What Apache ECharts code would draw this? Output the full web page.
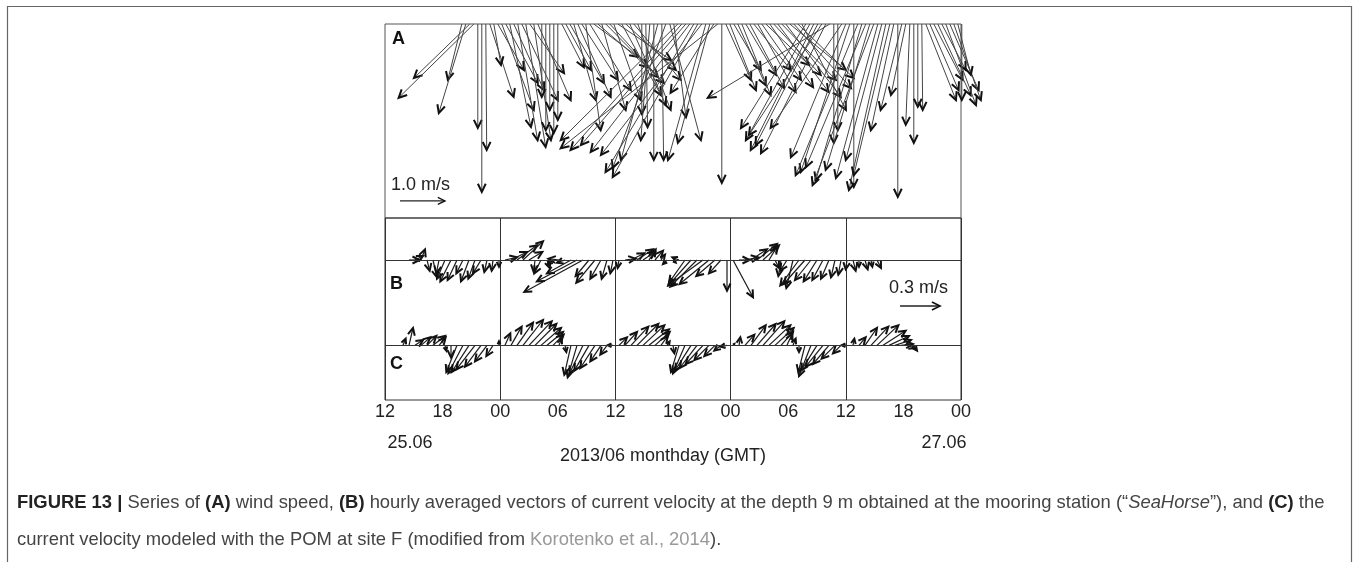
<!DOCTYPE html>
<html>
<head>
<meta charset="utf-8">
<script src="https://cdn.jsdelivr.net/npm/echarts@6/dist/echarts.min.js"></script>
<style>
  html, body { margin: 0; padding: 0; background: #fff; }
  #chart { width: 1360px; height: 562px; }
</style>
</head>
<body>
<div id="chart"></div>
<script>
// time axis: hours since 12:00 25.06 (GMT), 60 h shown
var hourLabels = ['12', '18', '00', '06', '12', '18', '00', '06', '12', '18', '00'];
var dateLabels = ['25.06', '27.06'];

// (A) wind, every 25 min from 20:00 25.06, m/s
var windStart = 8, windStep = 5 / 12;
var windU = [
  -0.31, -0.60, -1.24, -1.67,
  0, 0, 0.02,
  0.53, 0.16, 0.58, 0.71, 0.71, 0.47, 0.67, 0.44, 0.80, 0.44, 0.76, 0.38, 0.73,
  0, 0, 0, 0, 0,
  0.49, 0.56, 0.76, 0.49, 0.73, 0.80, 0.33, 0.91, 0.98, 1.11, 0.53, 1.16, 1.20, 0.60, 1.18, 0.87, 1.11, 0.80, 1.04, 0.73,
  0, 0.04, -0.20, 0, -0.82, 0.04, -1.18,
  0.69, 0.27, -2.60, -2.47, -2.33, -2.20, -1.96, -1.89, -2.24, -0.84, -0.71, -0.96, -3.49, 0,
  0.56, 0.58, 0.60, 0.62, 0.64, 0.67, 0.76, 0.82, 0.84, 0.87, 0.96, 0.96, 1.04, 1.13, 1.20, 1.22, 1.24, 1.27, 1.24,
  0.98, -1.44, -1.42, -1.40, -1.38, -1.62, -1.44, -2.71,
  0, 0, -1.58, -1.22, -1.09, 0, -1.38, -1.02,
  -1.33, -0.98, -1.36, -0.93, -0.80, -0.82, -0.80, -0.51,
  0, -0.47, -0.33, -0.09, 0, 0, 0.02,
  0.67, 0.64, 0.64, 0.73, 0.53, 0.67, 0.64, 0.60, 0.29, 0
];
var windV = [
  -1.24, -1.98, -1.20, -1.64,
  -2.31, -3.73, -2.80,
  -1.62, -0.91, -1.02, -1.91, -1.31, -2.29, -1.47, -2.58, -1.69, -2.73, -1.09, -2.58, -1.69,
  -1.62, -2.36, -1.91, -2.42, -2.13,
  -0.96, -1.02, -1.31, -1.69, -1.62, -1.24, -2.36, -1.47, -0.73, -0.96, -1.91, -1.18, -1.31, -1.69, -0.80, -1.58, -1.02, -1.80, -1.24, -1.91,
  -2.00, -2.29, -2.58, -3.02, -3.02, -3.02, -3.20,
  -2.58, -2.07, -2.58, -2.80, -2.69, -2.84, -3.29, -3.40, -2.91, -3.02, -2.64, -1.53, -2.76, -3.53,
  -1.24, -1.47, -1.02, -1.36, -1.58, -1.13, -1.42, -1.02, -1.51, -1.24, -0.91, -1.40, -1.13, -1.51, -1.24, -1.62, -1.02, -1.42, -1.20,
  -1.91, -2.31, -2.58, -2.80, -2.69, -2.47, -2.87, -1.64,
  -2.64, -2.36, -2.31, -2.96, -3.29, -3.62, -3.36, -3.47,
  -3.18, -3.24, -3.58, -3.42, -3.02, -3.69, -3.36, -2.36,
  -3.84, -1.91, -1.58, -2.24, -2.64, -1.84, -1.91,
  -1.69, -1.47, -1.24, -1.58, -1.02, -1.80, -1.47, -1.69, -1.13, -1.69
];

// (B) measured current at 9 m, from 14:30 25.06, m/s
var curBStart = 2.5, curBStep = 0.625;
var curBU = [
  0.08, 0.06, 0.03, 0.02, 0.03, -0.02, -0.06, -0.08, -0.07, -0.05,
  -0.06, -0.05, -0.06, -0.02, -0.01, 0, 0.09, 0.12, 0.15, 0.15,
  0.10, -0.01, -0.05, 0.02, -0.04, -0.08, -0.06, -0.18, -0.30, -0.44,
  -0.10, -0.14, -0.08, -0.04, -0.02, -0.01, 0.08, 0.10, 0.12, 0.09,
  0.05, 0.06, 0.03, -0.03, 0.02, -0.05, -0.12, -0.17, -0.20, -0.26,
  -0.22, -0.14, -0.09, 0, 0.15, 0.08, 0.10, 0.12, 0.15, 0.12,
  0.06, 0.03, -0.02, -0.05, -0.05, -0.14, -0.16, -0.12, -0.10, -0.08,
  -0.06, -0.03, -0.02, -0.01, 0.02, 0, 0.02, 0.01, 0.03
];
var curBV = [
  0, 0.03, 0.08, -0.08, -0.13, -0.10, -0.14, -0.16, -0.15, -0.10,
  -0.16, -0.14, -0.10, -0.09, -0.08, -0.05, 0.02, 0.06, 0.11, 0.14,
  0.06, -0.09, -0.10, -0.06, -0.03, 0.01, -0.02, -0.10, -0.16, -0.24,
  -0.12, -0.17, -0.14, -0.14, -0.10, -0.06, 0.01, 0.05, 0.08, 0.06,
  0.08, 0.07, 0.04, -0.03, -0.02, 0.02, -0.17, -0.19, -0.20, -0.19,
  -0.18, -0.12, -0.10, -0.23, -0.28, 0, 0.02, 0.08, 0.12, 0.11,
  0.10, -0.06, -0.12, -0.08, -0.21, -0.19, -0.18, -0.15, -0.16, -0.15,
  -0.14, -0.13, -0.11, -0.07, -0.08, -0.05, -0.07, -0.05, -0.06
];

// (C) POM current at site F, from 13:52 25.06, m/s
var curCStart = 1.875, curCStep = 0.625;
var curCU = [
  0.02, 0.03, 0.06, 0.07, 0.07, 0.09, 0.05, 0.01, 0, -0.08,
  -0.11, -0.13, -0.14, -0.12, -0.09, -0.05, 0, 0.04, 0.08, 0.12,
  0.15, 0.17, 0.16, 0.15, 0.12, 0.08, 0.02, 0.01, -0.05, -0.07,
  -0.10, -0.11, -0.11, -0.08, -0.05, -0.04, 0.06, 0.09, 0.13, 0.16,
  0.16, 0.15, 0.11, 0.05, 0.02, 0.01, -0.06, -0.09, -0.12, -0.13,
  -0.13, -0.11, -0.08, -0.05, -0.05, 0.01, 0.01, 0.07, 0.11, 0.14,
  0.16, 0.16, 0.14, 0.09, 0.04, 0.02, 0, -0.05, -0.09, -0.12,
  -0.13, -0.12, -0.10, -0.06, -0.04, 0.01, 0.05, 0.09, 0.13, 0.16,
  0.17, 0.15, 0.12, 0.09, 0.06, 0.03
];
var curCV = [
  0.05, 0.13, 0.04, 0.06, 0.07, 0.07, 0.06, -0.04, -0.09, -0.20,
  -0.21, -0.20, -0.18, -0.16, -0.12, -0.08, 0.03, 0.09, 0.14, 0.17,
  0.19, 0.18, 0.16, 0.13, 0.10, 0.08, 0.05, -0.05, -0.22, -0.24,
  -0.21, -0.19, -0.17, -0.12, -0.07, 0, 0.06, 0.10, 0.14, 0.16,
  0.15, 0.12, 0.10, 0.07, 0.03, -0.06, -0.20, -0.21, -0.19, -0.17,
  -0.14, -0.11, -0.08, -0.04, -0.01, 0.01, 0.06, 0.08, 0.15, 0.16,
  0.18, 0.15, 0.13, 0.10, 0.09, 0.05, -0.05, -0.20, -0.23, -0.19,
  -0.16, -0.14, -0.10, -0.06, 0, 0.05, 0.06, 0.13, 0.14, 0.15,
  0.11, 0.07, 0.04, 0.01, -0.02, -0.04
];

// baselines of the B and C sticks (m/s, in the lower panel)
var baseB = 0, baseC = -0.64;
// scale arrows: [time, u, v, base]
var keyA = [[1.5625, 1.0, 0, -3.93]];
var keyB = [[53.65, 0.3, 0, -0.345]];

function sticks(start, step, u, v, base) {
  var out = [];
  for (var i = 0; i < Math.min(u.length, v.length); i++) {
    out.push([start + i * step, u[i], v[i], base]);
  }
  return out;
}

function arrowRenderer(headLen, shaftColor, shaftWidth, headWidth) {
  return function (params, api) {
    var t = api.value(0), u = api.value(1), v = api.value(2), b = api.value(3);
    var o = api.coord([t, b]);
    var k = api.size([0, 1])[1]; // px per m/s
    var tip = [o[0] + u * k, o[1] - v * k];
    var dx = tip[0] - o[0], dy = tip[1] - o[1];
    var len = Math.sqrt(dx * dx + dy * dy);
    var children = [{
      type: 'line',
      shape: { x1: o[0], y1: o[1], x2: tip[0], y2: tip[1] },
      style: { stroke: shaftColor, lineWidth: shaftWidth }
    }];
    if (len > 1.5) {
      var ang = Math.atan2(dy, dx);
      var L = Math.min(headLen, len * 0.8);
      var a1 = ang + Math.PI - 0.45, a2 = ang + Math.PI + 0.45;
      children.push({
        type: 'polyline',
        shape: { points: [
          [tip[0] + L * Math.cos(a1), tip[1] + L * Math.sin(a1)],
          tip,
          [tip[0] + L * Math.cos(a2), tip[1] + L * Math.sin(a2)]
        ] },
        style: { stroke: '#111', lineWidth: headWidth, fill: null }
      });
    }
    return { type: 'group', children: children };
  };
}

var font = "'Liberation Sans', Arial, sans-serif";
var lineStyleBase = { type: 'solid', color: '#333', width: 1 };
var capSize = 18.4;

var chart = echarts.init(document.getElementById('chart'));
var option = {
  animation: false,
  grid: [
    { left: 385, top: 24, width: 576, height: 194, show: true, borderColor: '#555', borderWidth: 1 },
    { left: 385, top: 218, width: 576, height: 182, show: true, borderColor: '#333', borderWidth: 1 }
  ],
  xAxis: [
    { gridIndex: 0, type: 'value', min: 0, max: 60, show: false },
    {
      gridIndex: 1, type: 'value', min: 0, max: 60, interval: 12, position: 'bottom',
      axisLine: { show: false },
      axisTick: { show: true, length: 5, lineStyle: { color: '#333' } },
      axisLabel: { show: false },
      splitLine: { show: true, lineStyle: lineStyleBase }
    },
    {
      gridIndex: 1, type: 'value', min: 0, max: 60, interval: 6, position: 'bottom',
      axisLine: { show: false }, axisTick: { show: false }, splitLine: { show: false },
      axisLabel: {
        margin: 3, color: '#222', fontSize: 18, fontFamily: font,
        formatter: function (val) { return hourLabels[Math.round(val / 6)]; }
      }
    }
  ],
  yAxis: [
    { gridIndex: 0, type: 'value', min: -4.31, max: 0, show: false },
    { gridIndex: 1, type: 'value', min: -1.05, max: 0.315, show: false }
  ],
  graphic: [
    { type: 'rect', shape: { x: 7.5, y: 6.5, width: 1344, height: 620 },
      style: { fill: 'none', stroke: '#666', lineWidth: 1.2 }, z: -1 },
    { type: 'text', x: 392, y: 30, style: { text: 'A', font: 'bold 18px ' + font, fill: '#111' } },
    { type: 'text', x: 390, y: 275, style: { text: 'B', font: 'bold 18px ' + font, fill: '#111' } },
    { type: 'text', x: 390, y: 355, style: { text: 'C', font: 'bold 18px ' + font, fill: '#111' } },
    { type: 'text', x: 391, y: 176, style: { text: '1.0 m/s', font: '18px ' + font, fill: '#222' } },
    { type: 'text', x: 889, y: 279, style: { text: '0.3 m/s', font: '18px ' + font, fill: '#222' } },
    { type: 'text', x: 410, y: 443, style: { text: dateLabels[0], font: '18px ' + font, fill: '#222', align: 'center', verticalAlign: 'middle' } },
    { type: 'text', x: 944, y: 443, style: { text: dateLabels[1], font: '18px ' + font, fill: '#222', align: 'center', verticalAlign: 'middle' } },
    { type: 'text', x: 663, y: 456, style: { text: '2013/06 monthday (GMT)', font: '18px ' + font, fill: '#222', align: 'center', verticalAlign: 'middle' } },
    {
      type: 'text', x: 17, y: 503,
      style: {
        text: '{b|FIGURE 13 |}{n| Series of }{b|(A)}{n| wind speed, }{b|(B)}{n| hourly averaged vectors of current velocity at the depth 9 m obtained at the mooring station (\u201c}{i|SeaHorse}{n|\u201d), and }{b|(C)}{n| the}',
        verticalAlign: 'middle',
        font: capSize + 'px ' + font,
        rich: {
          b: { fontSize: capSize, fontFamily: font, fill: '#222', fontWeight: 'bold' },
          n: { fontSize: capSize, fontFamily: font, fill: '#444' },
          i: { fontSize: capSize, fontFamily: font, fill: '#444', fontStyle: 'italic' }
        }
      }
    },
    {
      type: 'text', x: 17, y: 540,
      style: {
        text: '{n|current velocity modeled with the POM at site F (modified from }{g|Korotenko et al., 2014}{n|).}',
        verticalAlign: 'middle',
        font: capSize + 'px ' + font,
        rich: {
          n: { fontSize: capSize, fontFamily: font, fill: '#444' },
          g: { fontSize: capSize, fontFamily: font, fill: '#999' }
        }
      }
    }
  ],
  series: [
    {
      name: 'wind', type: 'custom', xAxisIndex: 0, yAxisIndex: 0, silent: true,
      renderItem: arrowRenderer(9, '#444', 1, 2),
      data: sticks(windStart, windStep, windU, windV, 0)
    },
    {
      name: 'keyA', type: 'custom', xAxisIndex: 0, yAxisIndex: 0, silent: true,
      renderItem: arrowRenderer(8, '#222', 1.2, 1.3),
      data: keyA
    },
    {
      name: 'B', type: 'custom', xAxisIndex: 1, yAxisIndex: 1, silent: true,
      renderItem: arrowRenderer(8, '#1a1a1a', 1.2, 2),
      data: sticks(curBStart, curBStep, curBU, curBV, baseB),
      markLine: { silent: true, symbol: 'none', label: { show: false }, lineStyle: lineStyleBase, data: [{ yAxis: baseB }] }
    },
    {
      name: 'C', type: 'custom', xAxisIndex: 1, yAxisIndex: 1, silent: true,
      renderItem: arrowRenderer(8, '#1a1a1a', 1.2, 2),
      data: sticks(curCStart, curCStep, curCU, curCV, baseC),
      markLine: { silent: true, symbol: 'none', label: { show: false }, lineStyle: lineStyleBase, data: [{ yAxis: baseC }] }
    },
    {
      name: 'keyB', type: 'custom', xAxisIndex: 1, yAxisIndex: 1, silent: true,
      renderItem: arrowRenderer(9, '#222', 1.6, 1.6),
      data: keyB
    }
  ]
};
chart.setOption(option);
</script>
</body>
</html>
